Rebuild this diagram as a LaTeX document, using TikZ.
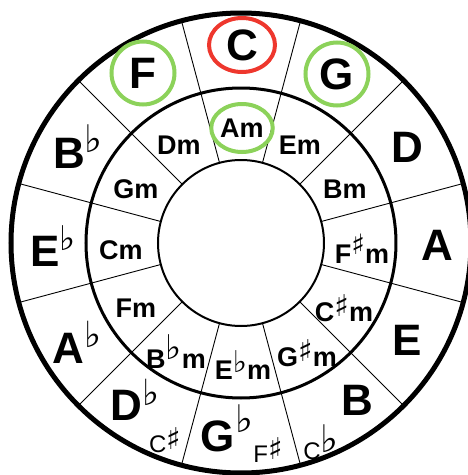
\documentclass[tikz,border=0pt]{standalone}
\usepackage{fontspec}
\setmainfont{Liberation Sans}
\newfontfamily\symfont{DejaVu Sans}
\usetikzlibrary{shapes.geometric}

% 升降号：字号，抬高
\newcommand{\fl}[2]{\raisebox{#2pt}{\fontsize{#1}{#1}\symfont ♭}}
\newcommand{\sh}[2]{\raisebox{#2pt}{\fontsize{#1}{#1}\symfont ♯}}
\definecolor{ringgreen}{RGB}{140,210,90}
\definecolor{ringred}{RGB}{238,55,45}

\begin{document}
\begin{tikzpicture}[x=1pt, y=1pt,
    major/.style={font=\fontsize{44}{44}\selectfont\bfseries, inner sep=0pt},
    minor/.style={font=\fontsize{27}{27}\selectfont\bfseries, inner sep=0pt},
    enh/.style={font=\fontsize{24}{24}\selectfont, inner sep=0pt},
    ring/.style={draw=ringgreen, line width=4pt, ellipse},
    tonic/.style={draw=ringred, line width=4pt, ellipse}]
    \useasboundingbox (-241,-232) rectangle (227,243);
    \clip (-241,-232) rectangle (227,243);

    % 三个圆
    \draw[line width=5pt] (0,0) circle (230);
    \draw[line width=3pt] (0,0) circle (155);
    \draw[line width=2pt] (0,0) circle (83);

    % 分隔线
    \foreach \a in {15,45,...,345}
        \draw[line width=0.9pt] (\a:83) -- (\a:229);

    % 外圈：大调
    \node[major, tonic, minimum width=66pt, minimum height=54pt] (C) at (1,198) {C};
    \node[major, ring, minimum width=63pt, minimum height=63pt] (G) at (96,169) {G};
    \node[major] (D) at (166,96) {D};
    \node[major] (A) at (196,-2) {A};
    \node[major] (E) at (166,-97) {E};
    \node[major] (B) at (116,-157) {B};
    \node[major] (Gb) at (-14,-185) {G\fl{38}{19}};
    \node[major] (Db) at (-106,-157) {D\fl{36}{15}};
    \node[major] (Ab) at (-164,-99) {A\fl{36}{16}};
    \node[major] (Eb) at (-188,-3) {E\fl{34}{16}};
    \node[major] (Bb) at (-163,96) {B\fl{38}{16}};
    \node[major, ring, minimum width=63pt, minimum height=63pt] (F) at (-98,170) {F};

    % 同音异名
    \node[enh] (Cs) at (-76,-197) {C\sh{30}{3}};
    \node[enh] (Fs) at (27,-207) {F\sh{30}{3}};
    \node[enh] (Cb) at (80,-199) {C\fl{38}{7}};

    % 内圈：小调
    \node[minor, ring, minimum width=57pt, minimum height=48pt] (Am) at (1,115) {Am};
    \node[minor] (Em) at (59,98) {Em};
    \node[minor] (Bm) at (104,54) {Bm};
    \node[minor] (Fsm) at (121,-6) {F\sh{28}{9}m};
    \node[minor] (Csm) at (103,-65) {C\sh{30}{5}m};
    \node[minor] (Gsm) at (66,-110) {G\sh{30}{5}m};
    \node[minor] (Ebm) at (2,-122) {E\fl{30}{7}m};
    \node[minor] (Bbm) at (-65,-109) {B\fl{34}{9}m};
    \node[minor] (Fm) at (-105,-65) {Fm};
    \node[minor] (Cm) at (-120,-7) {Cm};
    \node[minor] (Gm) at (-105,54) {Gm};
    \node[minor] (Dm) at (-62,98) {Dm};
\end{tikzpicture}
\end{document}
